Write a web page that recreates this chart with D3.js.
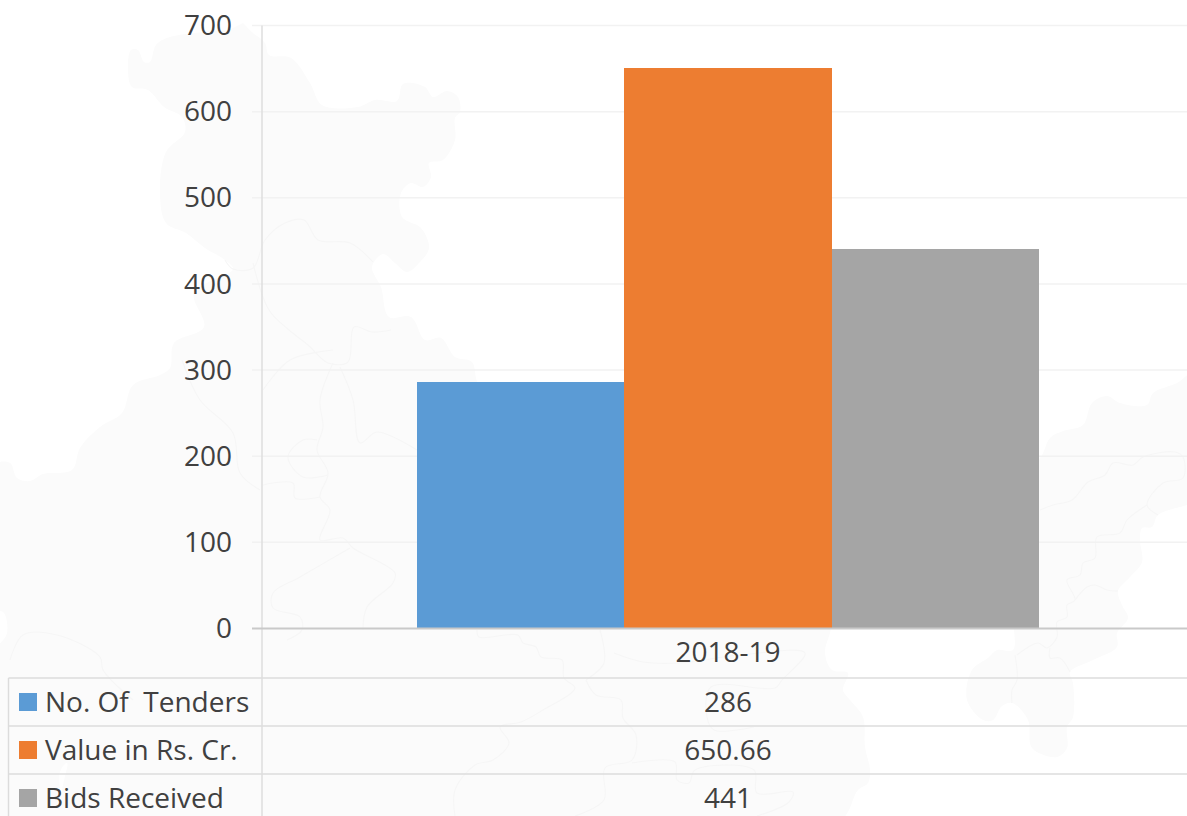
<!DOCTYPE html>
<html><head><meta charset="utf-8">
<script src="https://cdn.jsdelivr.net/npm/d3@7"></script>
<style>
html,body{margin:0;padding:0;background:#fff;overflow:hidden}
svg{display:block}
text{font-family:"Open Sans",sans-serif;fill:#404040;white-space:pre}
</style></head><body><svg id="c" width="1187" height="816"></svg>
<script>
const categories = ["2018-19"];
const seriesNames = ["No. Of  Tenders", "Value in Rs. Cr.", "Bids Received"];
const seriesValues = [[286], [650.66], [441]];
const seriesLabels = [["286"], ["650.66"], ["441"]];
const seriesColors = ["#5b9bd5", "#ed7d31", "#a5a5a5"];
const yTicks = [0, 100, 200, 300, 400, 500, 600, 700];

// Faint map watermark behind the chart (decoration, not data)
const mapOutline = [[243,23],[253,33],[265,43],[269,55],[291,58],[310,83],[322,105],[358,107],[375,100],[397,101],[403,84],[425,87],[433,97],[447,91],[458,97],[460,112],[455,118],[455,140],[443,160],[429,163],[431,177],[423,187],[411,183],[401,193],[402,217],[421,228],[429,248],[419,263],[407,272],[395,263],[383,254],[372,267],[381,287],[389,317],[411,317],[425,340],[441,338],[455,357],[472,362],[478,383],[500,400],[1020,470],[1040,458],[1050,438],[1063,431],[1083,425],[1092,403],[1107,396],[1120,403],[1147,405],[1153,393],[1177,383],[1195,372],[1195,502],[1187,505],[1158,515],[1152,527],[1142,528],[1140,540],[1142,562],[1130,577],[1118,591],[1122,605],[1128,618],[1117,633],[1117,647],[1093,660],[1070,672],[1073,683],[1073,717],[1067,727],[1067,748],[1057,757],[1032,748],[1028,720],[1012,703],[1002,706],[993,720],[983,720],[967,700],[972,670],[988,658],[997,650],[1013,650],[1014,629],[1010,600],[840,600],[830,633],[825,653],[832,670],[848,673],[843,690],[850,700],[863,717],[865,747],[870,770],[868,783],[858,790],[835,825],[67,825],[67,763],[60,772],[58,825],[-5,825],[-5,653],[7,633],[4,613],[-5,608],[-5,465],[10,463],[17,478],[30,481],[43,474],[72,470],[80,448],[100,427],[122,413],[133,385],[160,375],[170,368],[174,343],[204,327],[194,293],[233,269],[225,260],[205,248],[186,233],[166,223],[160,193],[166,152],[185,132],[182,117],[164,107],[148,90],[132,87],[128,70],[131,50],[138,50],[144,62],[150,62],[156,45],[170,37],[229,30]];
const mapBorders = [
 [[225,260],[233,269],[253,268],[265,240],[285,223],[304,220],[318,240],[350,243],[373,262]],
 [[253,263],[269,310],[289,330],[308,345],[328,363],[348,362],[354,327],[372,332],[391,330]],
 [[333,363],[320,400],[323,427],[317,450],[328,473],[320,497],[330,510],[320,540],[343,538],[353,548],[395,573],[393,583],[367,607],[363,630]],
 [[340,367],[353,400],[360,443],[377,432],[417,450]],
 [[263,390],[290,360],[333,350]],
 [[263,485],[293,483],[295,498],[320,497]],
 [[317,440],[303,440],[288,457],[303,477],[328,475]],
 [[182,360],[200,400],[233,433],[240,473],[260,490]],
 [[350,548],[300,577],[273,593],[273,608],[300,617],[302,630],[287,640]],
 [[10,660],[23,635],[57,635],[100,657],[103,670],[133,700]],
 [[1040,510],[1053,505],[1072,500],[1088,482],[1105,475],[1113,463],[1133,465],[1143,457],[1175,452],[1183,457],[1183,478],[1163,483],[1147,505],[1158,515]],
 [[1147,505],[1127,520],[1120,533],[1097,537],[1095,558],[1083,563],[1080,575],[1067,580],[1075,600],[1067,605],[1067,617],[1057,622],[1057,637],[1047,648],[1038,643],[1017,655]],
 [[1075,600],[1087,587],[1095,585],[1107,590],[1118,591]],
 [[1050,648],[1050,658],[1060,658],[1070,672]],
 [[1015,655],[1017,680],[1012,690],[1012,703]],
 [[477,630],[479,637],[518,635],[523,643],[536,647],[541,657],[562,660],[564,678],[575,688],[543,710],[521,722],[500,727],[509,743],[493,760],[475,765],[455,790],[455,816]],
 [[586,680],[604,663],[600,630]],
 [[586,680],[596,695],[621,700],[623,718],[636,735],[632,760],[605,768],[604,800],[575,816]],
 [[614,653],[643,662],[679,663],[740,655],[805,653],[782,680],[775,688],[711,687],[707,717],[714,730],[754,727]],
 [[632,763],[675,762],[677,780],[689,783],[695,770],[754,770],[757,793],[793,792],[789,802],[757,816]]
];

const W = 1187, H = 816;
const axisX = 262, plotRight = 1194, y0 = 628.5, yTop = 25.5;
const tableLeft = 8.5, rowTop = 678, rowH = 48;
const fontSize = 28;

const svg = d3.select("#c");
const smooth = d3.line().curve(d3.curveCatmullRom.alpha(0.5));

svg.append("path").attr("d", smooth(mapOutline) + "Z").attr("fill", "#fbfbfb");
svg.append("g").selectAll("path").data(mapBorders).join("path")
  .attr("d", d => smooth(d)).attr("fill", "none").attr("stroke", "#f6f6f6").attr("stroke-width", 1.1);

const y = d3.scaleLinear().domain([0, 700]).range([y0, yTop]);
const x = d3.scaleBand().domain(categories).range([axisX, plotRight]).paddingInner(0).paddingOuter(0.2492);
const xs = d3.scaleBand().domain(d3.range(seriesNames.length)).range([0, x.bandwidth()]);

// gridlines + ticks
svg.append("g").selectAll("line").data(yTicks.filter(t => t > 0)).join("line")
  .attr("x1", 252).attr("x2", W).attr("y1", d => y(d)).attr("y2", d => y(d))
  .attr("stroke", "#f2f2f2").attr("stroke-width", 1.5);

// bars
const bars = svg.append("g").attr("shape-rendering", "crispEdges");
seriesNames.forEach((s, i) => {
  bars.selectAll(null).data(seriesValues[i]).join("rect")
    .attr("x", (d, j) => x(categories[j]) + xs(i))
    .attr("width", xs.bandwidth())
    .attr("y", d => y(d))
    .attr("height", d => y0 - y(d))
    .attr("fill", seriesColors[i]);
});

// y axis
svg.append("line").attr("x1", axisX).attr("x2", axisX).attr("y1", yTop).attr("y2", H)
  .attr("stroke", "#dedede").attr("stroke-width", 1.5);
svg.append("line").attr("x1", 252).attr("x2", W).attr("y1", y0).attr("y2", y0)
  .attr("stroke", "#c9c9c9").attr("stroke-width", 2);
svg.append("g").selectAll("text").data(yTicks).join("text")
  .attr("x", 232).attr("y", d => y(d) + 9.7).attr("text-anchor", "end")
  .attr("font-size", fontSize).text(d => d);

// data table
const rows = seriesNames.map((_, i) => rowTop + i * rowH);
svg.append("g").selectAll("line").data(rows).join("line")
  .attr("x1", tableLeft).attr("x2", W).attr("y1", d => d).attr("y2", d => d)
  .attr("stroke", "#dcdcdc").attr("stroke-width", 1.5);
svg.append("line").attr("x1", tableLeft).attr("x2", tableLeft).attr("y1", rowTop).attr("y2", H)
  .attr("stroke", "#dcdcdc").attr("stroke-width", 1.5);

const cx = x(categories[0]) + x.bandwidth() / 2;
svg.append("text").attr("x", cx).attr("y", rowTop - 16).attr("text-anchor", "middle")
  .attr("font-size", fontSize).text(categories[0]);

seriesNames.forEach((s, i) => {
  const top = rows[i];
  svg.append("rect").attr("x", 19).attr("y", top + 15).attr("width", 18).attr("height", 18).attr("fill", seriesColors[i]);
  svg.append("text").attr("x", 45).attr("y", top + 34).attr("font-size", fontSize).text(s);
  svg.append("text").attr("x", cx).attr("y", top + 34).attr("text-anchor", "middle")
    .attr("font-size", fontSize).text(seriesLabels[i][0]);
});
</script></body></html>
